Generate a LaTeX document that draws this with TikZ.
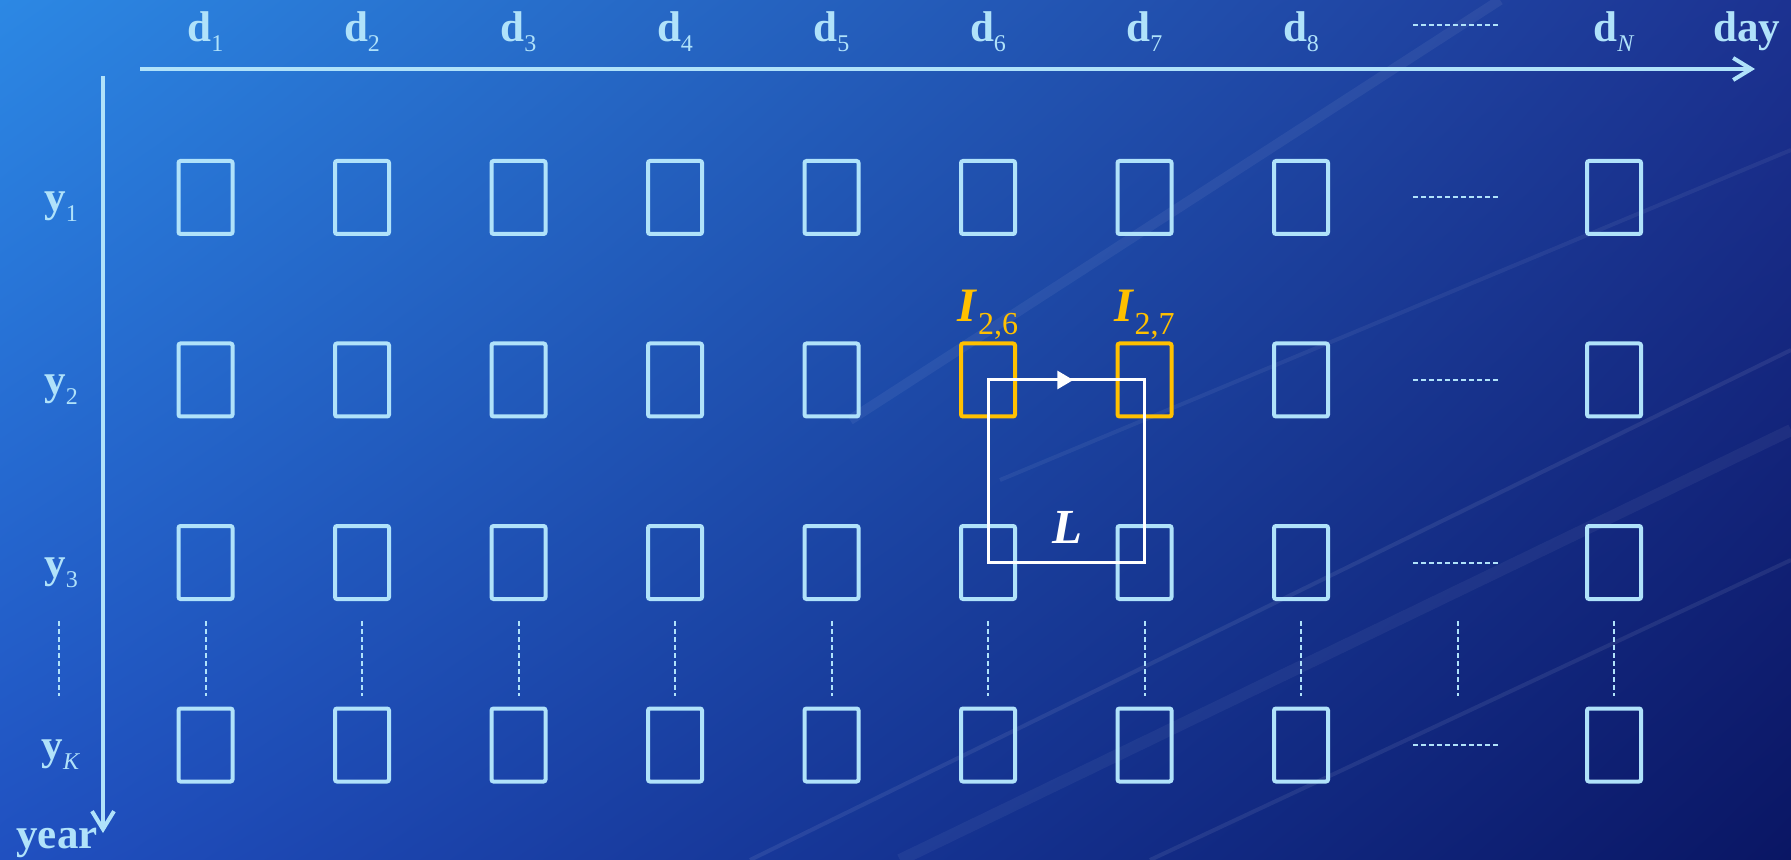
\documentclass[tikz,border=0pt]{standalone}
\usepackage{fontspec}
\setmainfont{Liberation Serif}
\usepackage{tikz}
\usetikzlibrary{arrows.meta,calc,shadings}

\definecolor{gridblue}{RGB}{176,226,250}
\definecolor{markgold}{RGB}{255,192,0}
\definecolor{bgtl}{RGB}{44,136,228}
\definecolor{bgtr}{RGB}{28,50,145}
\definecolor{bgbl}{RGB}{32,80,192}
\definecolor{bgbr}{RGB}{10,22,100}

% label with a lowered subscript
\newcommand{\axlab}[2]{\textbf{#1}\raisebox{-5pt}{\fontsize{12}{12}\selectfont #2}}
\newcommand{\idxlab}[2]{\textbf{\textit{#1}}\raisebox{-6.5pt}{\fontsize{16}{16}\selectfont #2}}

\begin{document}
\begin{tikzpicture}[
    x=0.5pt, y=-0.5pt,
    cell/.style={draw=gridblue, line width=2pt, rounded corners=1pt, minimum width=27pt, minimum height=36.5pt, inner sep=0pt},
    cell 2-6/.style={draw=markgold},
    cell 2-7/.style={draw=markgold},
    axis/.style={gridblue, line width=2pt, -{Straight Barb[length=9pt, width=11pt]}},
    dots/.style={gridblue, line width=1pt, dash pattern=on 2.5pt off 1.5pt},
    lab/.style={text=gridblue, font=\fontsize{21.5}{21.5}\selectfont, anchor=base, inner sep=0pt},
    ilab/.style={text=markgold, font=\fontsize{24}{24}\selectfont, anchor=base, inner sep=0pt},
    streak/.style={white, line width=2pt, opacity=0.08},
  ]
    % background
    \shade[upper left=bgtl, upper right=bgtr, lower left=bgbl, lower right=bgbr] (0,0) rectangle (1791,860);
    \useasboundingbox (0,0) rectangle (1791,860);
    \draw[streak] (750,860) -- (1791,350);
    \draw[streak, line width=6pt, opacity=0.05] (900,860) -- (1791,430);
    \draw[streak] (1150,860) -- (1791,560);
    \draw[streak, line width=5pt, opacity=0.06] (850,420) -- (1500,0);
    \draw[streak, opacity=0.06] (1000,480) -- (1791,150);

    % axes
    \coordinate (xs) at (140,69);
    \coordinate (xe) at (1755,69);
    \coordinate (ys) at (103,76);
    \coordinate (ye) at (103,833);
    \draw[axis] (xs) -- (xe);
    \draw[axis] (ys) -- (ye);

    % day labels
    \foreach \c/\xx in {1/205.5, 2/362, 3/518.5, 4/675, 5/831.5, 6/988, 7/1144.5, 8/1301} {
      \node[lab] (d\c) at (\xx,42) {\axlab{d}{\c}};
    }
    \node[lab] (dN) at (1614,42) {\axlab{d}{\textit{N}}};
    \node[lab] (day) at (1747,42) {\textbf{day}};

    % year labels
    \foreach \r/\yy in {1/212, 2/394.5, 3/577} {
      \node[lab] (y\r) at (61,\yy) {\axlab{y}{\r}};
    }
    \node[lab] (yK) at (61,759.5) {\axlab{y}{\textit{K}}};
    \node[lab] (year) at (57,848) {\textbf{year}};

    % cells
    \foreach \r/\yy in {1/197.5, 2/380, 3/562.5, K/745} {
      \foreach \c/\xx in {1/205.5, 2/362, 3/518.5, 4/675, 5/831.5, 6/988, 7/1144.5, 8/1301, N/1614} {
        \node[cell, cell \r-\c/.try] (c\r\c) at (\xx,\yy) {};
      }
      \draw[dots] (1413,\yy) -- (1500,\yy);
    }
    \draw[dots] (1413,25) -- (1500,25);
    \foreach \xx in {59, 205.5, 362, 518.5, 675, 831.5, 988, 1144.5, 1301, 1457.5, 1614} {
      \draw[dots] (\xx,621) -- (\xx,696);
    }

    % lag loop
    \node[ilab] (i26) at (988,322) {\idxlab{I}{2,6}};
    \node[ilab] (i27) at (1144.5,322) {\idxlab{I}{2,7}};
    \draw[white, line width=1.5pt] (c26.center) rectangle (c37.center);
    \draw[white, line width=1.5pt, -{Triangle[length=8pt, width=9pt]}] (c26.center) -- ($(c26.center)!0.545!(c27.center)$);
    \node[ilab, text=white, font=\fontsize{24.5}{24.5}\selectfont] (lag) at (1067,543) {\textbf{\textit{L}}};
  \end{tikzpicture}
\end{document}
